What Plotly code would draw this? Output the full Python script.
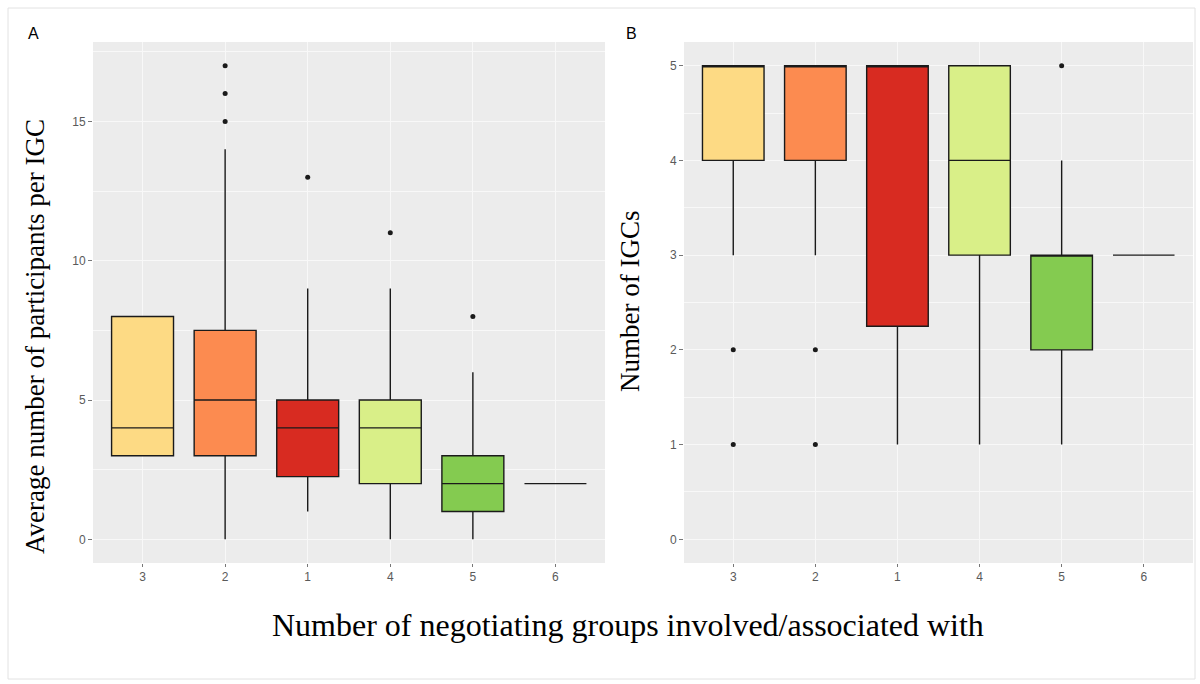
import plotly.graph_objects as go

# ---------------- data ----------------
categories = ["3", "2", "1", "4", "5", "6"]
colors = ["#FDDA84", "#FC8B50", "#D82B21", "#D9EF88", "#84CB50", "#1A9850"]

# Panel A: average number of participants per IGC
a_q1 = [3, 3, 2.25, 2, 1, 2]
a_med = [4, 5, 4, 4, 2, 2]
a_q3 = [8, 7.5, 5, 5, 3, 2]
a_low = [3, 0, 1, 0, 0, 2]
a_high = [8, 14, 9, 9, 6, 2]
a_out_x = ["2", "2", "2", "1", "4", "5"]
a_out_y = [15, 16, 17, 13, 11, 8]

# Panel B: number of IGCs
b_q1 = [4, 4, 2.25, 3, 2, 3]
b_med = [5, 5, 5, 4, 3, 3]
b_q3 = [5, 5, 5, 5, 3, 3]
b_low = [3, 3, 1, 1, 1, 3]
b_high = [5, 5, 5, 5, 4, 3]
b_out_x = ["3", "3", "2", "2", "5"]
b_out_y = [2, 1, 2, 1, 5]

W, H = 1200, 684
fig = go.Figure()


def add_panel(q1, med, q3, low, high, ox, oy, xa, ya):
    for i, c in enumerate(categories):
        fig.add_trace(go.Box(
            x=[c], q1=[q1[i]], median=[med[i]], q3=[q3[i]],
            lowerfence=[low[i]], upperfence=[high[i]],
            fillcolor=colors[i], line=dict(color="#1a1a1a", width=1.4),
            width=0.75, whiskerwidth=0, boxpoints=False,
            xaxis=xa, yaxis=ya, showlegend=False, hoverinfo="skip"))
    fig.add_trace(go.Scatter(
        x=ox, y=oy, mode="markers",
        marker=dict(color="#1a1a1a", size=5),
        xaxis=xa, yaxis=ya, showlegend=False, hoverinfo="skip"))


add_panel(a_q1, a_med, a_q3, a_low, a_high, a_out_x, a_out_y, "x", "y")
add_panel(b_q1, b_med, b_q3, b_low, b_high, b_out_x, b_out_y, "x2", "y2")

tickfont = dict(family="Liberation Sans, Arial", size=12, color="#5a5a5a")
ydom = [1 - 563 / H, 1 - 42 / H]
grid = "#F8F8F8"

xcommon = dict(type="category", categoryorder="array", categoryarray=categories,
               range=[-0.6, 5.6], showgrid=True, gridcolor=grid, gridwidth=1.2,
               ticks="outside", ticklen=3, tickcolor="#777", tickfont=tickfont,
               zeroline=False, showline=False)
ycommon = dict(showgrid=True, gridcolor=grid, gridwidth=1.2,
               ticks="outside", ticklen=4, tickcolor="#777", tickfont=tickfont,
               zeroline=False, showline=False, domain=ydom)

fig.update_layout(
    width=W, height=H,
    margin=dict(l=0, r=0, t=0, b=0),
    paper_bgcolor="white", plot_bgcolor="#ECECEC",
    boxmode="overlay",
    xaxis=dict(xcommon, domain=[93 / W, 605 / W], anchor="y"),
    xaxis2=dict(xcommon, domain=[684 / W, 1193 / W], anchor="y2"),
    yaxis=dict(ycommon, range=[-0.85, 17.85], tickvals=[0, 5, 10, 15], anchor="x",
               minor=dict(showgrid=True, gridcolor=grid, gridwidth=0.6,
                          tickvals=[2.5, 7.5, 12.5, 17.5])),
    yaxis2=dict(ycommon, range=[-0.25, 5.25], tickvals=[0, 1, 2, 3, 4, 5], anchor="x2",
                minor=dict(showgrid=True, gridcolor=grid, gridwidth=0.6,
                           tickvals=[0.5, 1.5, 2.5, 3.5, 4.5])),
)

serif = "Liberation Serif, Times New Roman, serif"
annotations = [
    dict(text="Average number of participants per IGC", x=35 / W, y=1 - 337 / H,
         textangle=-90, font=dict(family=serif, size=27, color="black")),
    dict(text="Number of IGCs", x=630 / W, y=1 - 302 / H,
         textangle=-90, font=dict(family=serif, size=27, color="black")),
    dict(text="Number of negotiating groups involved/associated with",
         x=628 / W, y=1 - 625 / H, font=dict(family=serif, size=32, color="black")),
    dict(text="A", x=33 / W, y=1 - 33 / H,
         font=dict(family="Liberation Sans, Arial", size=16, color="black")),
    dict(text="B", x=632 / W, y=1 - 33 / H,
         font=dict(family="Liberation Sans, Arial", size=16, color="black")),
]
for a in annotations:
    a.update(xref="paper", yref="paper", showarrow=False,
             xanchor="center", yanchor="middle")
fig.update_layout(annotations=annotations)

fig.add_shape(type="rect", xref="paper", yref="paper",
              x0=8 / W, x1=1195 / W, y0=1 - 679 / H, y1=1 - 8 / H,
              line=dict(color="#E2E2E2", width=1), fillcolor="rgba(0,0,0,0)",
              layer="below")

fig.write_html("out.html")
